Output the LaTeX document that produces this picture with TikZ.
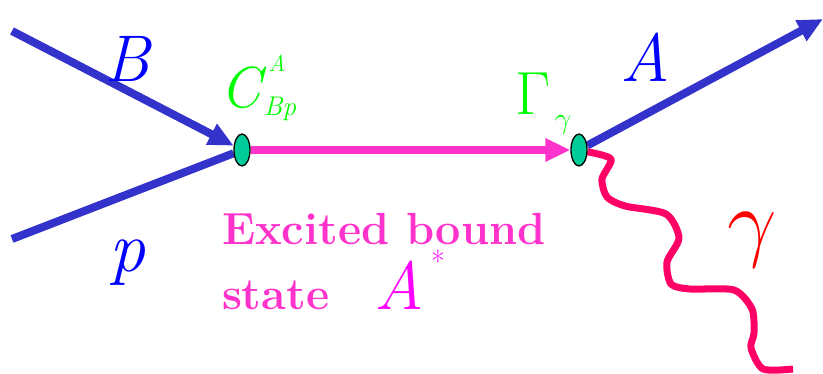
\documentclass[tikz,border=0pt]{standalone}
\usepackage{fix-cm}
\usepackage{fontspec}
\usetikzlibrary{arrows.meta,shapes.geometric}
\definecolor{lineblue}{HTML}{3333CC}
\definecolor{txtblue}{HTML}{0000FF}
\definecolor{vgreen}{HTML}{00FF00}
\definecolor{vfill}{HTML}{00CC99}
\definecolor{stmag}{HTML}{FF33CC}
\definecolor{amag}{HTML}{FF00FF}
\definecolor{phot}{HTML}{FF0066}
\definecolor{gred}{HTML}{FF0000}
\pgfdeclarelayer{bg}\pgfsetlayers{bg,main}
\begin{document}
\begin{tikzpicture}[x=1pt,y=-1pt,
  vertex/.style={ellipse,draw=black,line width=1.3pt,fill=vfill,minimum width=16pt,minimum height=32pt,inner sep=0pt},
  fermion/.style={draw=lineblue,line width=8pt},
  bigtip/.style={-{Triangle[length=25pt,width=22pt]}},
  boundline/.style={draw=stmag,line width=7.5pt},
  photon/.style={draw=phot,line width=7pt,line cap=butt,line join=round},
  lbl/.style={inner sep=0pt,outer sep=0pt,anchor=base},
  lblw/.style={inner sep=0pt,outer sep=0pt,anchor=base west},
  fs/.style={font=\fontsize{#1}{#1}\selectfont\itshape},
  fsup/.style={font=\fontsize{#1}{#1}\selectfont},
  fsbold/.style={font=\fontsize{#1}{#1}\selectfont\bfseries}]
\useasboundingbox (0,0) rectangle (823,374);
\node[vertex] (v1) at (242,150) {};
\node[vertex] (v2) at (579,150) {};
\coordinate (bstart) at (12,31);
\coordinate (pstart) at (12,239);
\coordinate (aend) at (823,19);
\coordinate (gend) at (793,369);
\begin{pgfonlayer}{bg}
\draw[fermion,bigtip] (bstart) -- (v1);
\draw[fermion] (pstart) -- (v1);
\draw[boundline,bigtip] (v1) -- (v2);
\draw[fermion,bigtip] (v2) -- (aend);
\draw[photon] plot[smooth,tension=0.45] coordinates {(v2.-12) (611,159) (602,179) (607,197) (625,206) (666,214) (679,238) (667,262) (671,284) (690,289) (734,290) (752,309) (754,333) (751,348) (763,369) (gend)};
\end{pgfonlayer}
% labels
\node[lbl,fs=66,text=txtblue] (lB) at (127,82) {B};
\node[lbl,fs=72,text=txtblue] (lp) at (127,272) {p};
\node[lbl,fs=68,text=txtblue] (lA) at (645,82) {A};
\node[lblw,fs=58,text=vgreen] (lC) at (220,108) {C};
\node[lbl,fs=23,text=vgreen] (lCA) at (277,72) {A};
\node[lbl,fs=27,text=vgreen] (lCBp) at (280,116) {Bp};
\node[lbl,fsup=61,text=vgreen] (lG) at (533,115) {$\Gamma$};
\node[inner sep=0pt,fsup=30,text=vgreen] (lGg) at (563,125) {$\gamma$};
\node[inner sep=0pt,fsup=88,text=gred] (lgam) at (752,240) {$\gamma$};
\node[lblw,fsbold=45,text=stmag] (lex) at (222,245) {Excited bound};
\node[lblw,fsbold=45,text=stmag] (lst) at (222,310) {state};
\node[lblw,fs=68,text=amag] (lAs) at (374,310) {A};
\node[inner sep=0pt,fsup=30,text=amag] (lstar) at (438,261) {*};
\end{tikzpicture}
\end{document}
